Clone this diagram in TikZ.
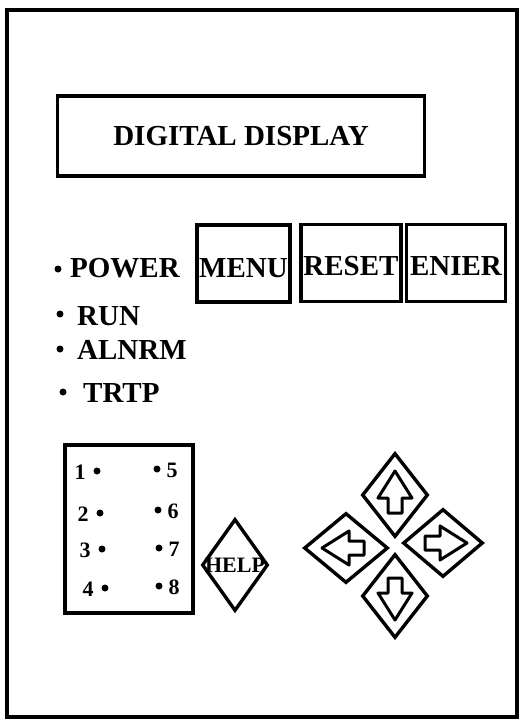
\documentclass[tikz,border=0pt]{standalone}
\usepackage{fontspec}
\setmainfont{Liberation Serif}
\usetikzlibrary{positioning,shapes.geometric}

\begin{document}
\begin{tikzpicture}[x=1pt,y=-1pt,
    panelbox/.style={draw, line width=3.2pt, inner sep=0pt},
    keybox/.style={panelbox, minimum height=77pt, text height=20pt, text depth=0pt,
        font=\bfseries\fontsize{29}{30}\selectfont},
    keydiamond/.style={draw, line width=3.4pt, diamond, inner sep=0pt},
    led/.style={circle, fill, inner sep=0pt, minimum size=7pt},
    ledtext/.style={anchor=west, inner sep=0pt, font=\bfseries\fontsize{29}{30}\selectfont},
    numtext/.style={inner sep=0pt, font=\bfseries\fontsize{22}{23}\selectfont},
    arrowline/.style={line width=3pt, line join=round}]
    \useasboundingbox (0,0) rectangle (531,725);
    % housing
    \draw[line width=3.8pt] (7,10) rectangle (517,717);
    % display
    \node[panelbox, minimum width=367pt, minimum height=80pt,
        font=\bfseries\fontsize{29}{30}\selectfont] (display) at (241,136) {DIGITAL DISPLAY};
    % keys
    \node[keybox, minimum width=93pt] (menu) at (243.5,263.5) {\raisebox{-4pt}{MENU}};
    \node[keybox, minimum width=100pt] (reset) at (351,263) {\raisebox{-2pt}{RESET}};
    \node[keybox, minimum width=99pt] (enier) at (456,263) {\raisebox{-2pt}{ENIER}};
    % status lights
    \node[led] (powerled) at (58,269) {};
    \node[ledtext] (power) at (70,268) {POWER};
    \node[led] (runled) at (60,314) {};
    \node[ledtext] (run) at (77,316) {RUN};
    \node[led] (alarmled) at (60,349) {};
    \node[ledtext] (alarm) at (77,350) {ALNRM};
    \node[led] (tripled) at (63,392) {};
    \node[ledtext] (trip) at (83,393) {TRTP};
    % channel lights
    \draw[line width=3.2pt] (65,445) rectangle (193,613);
    \foreach \n/\x/\y in {1/80/472,2/83/514,3/85/550,4/88/589}{
        \node[numtext] (num\n) at (\x,\y) {\n};
        \node[led] (dot\n) at (\x+17,\y-1) {};
    }
    \foreach \n/\x/\y in {5/172/470,6/173/511,7/174/549,8/174/587}{
        \node[numtext] (num\n) at (\x,\y) {\n};
        \node[led] (dot\n) at (\x-15,\y-1) {};
    }
    % help key
    \node[keydiamond, minimum width=66pt, minimum height=92pt] (help) at (235,565) {};
    \node[inner sep=0pt, font=\bfseries\fontsize{22}{23}\selectfont] (helptext) at (help.center) {HELP};
    % cursor keys
    \node[keydiamond, minimum width=66pt, minimum height=84pt] (up) at (395,495) {};
    \node[keydiamond, minimum width=84pt, minimum height=70pt] (left) at (346,548) {};
    \node[keydiamond, minimum width=80pt, minimum height=68pt] (right) at (443,543) {};
    \node[keydiamond, minimum width=66pt, minimum height=84pt] (down) at (395,596) {};
    \foreach \k/\a in {up/0,left/90,right/-90,down/180}{
        \draw[arrowline, shift={(\k.center)}, rotate=\a]
            (0,-24) -- (17,3) -- (7,3) -- (7,18) -- (-7,18) -- (-7,3) -- (-17,3) -- cycle;
    }
\end{tikzpicture}
\end{document}
